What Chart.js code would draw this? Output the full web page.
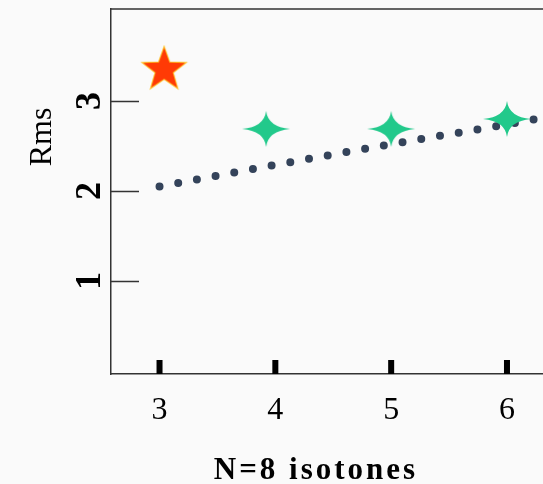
<!DOCTYPE html>
<html lang="en">
<head>
    <meta charset="UTF-8">
    <title>N=8 isotones Rms</title>
    <style>
        html, body {
            margin: 0;
            padding: 0;
            background: #fafafa;
            overflow: hidden;
        }
        #chart-container {
            width: 600px;
            height: 484px;
        }
    </style>
</head>
<body>
    <div id="chart-container">
        <canvas id="rmsChart"></canvas>
    </div>

    <script src="https://cdn.jsdelivr.net/npm/chart.js"></script>

    <script>
        // measured point (red star) and the isotone values (green stars)
        const measuredX = [3.04];
        const measuredY = [3.37];
        const isotoneX = [3.92, 5, 6];
        const isotoneY = [2.69, 2.69, 2.80];
        // dotted reference curve
        const curveX = [3, 4, 5, 6, 6.3];
        const curveY = [2.05, 2.29, 2.52, 2.74, 2.81];
        // tick labels
        const xTicks = [3, 4, 5, 6];
        const yTicks = [1, 2, 3];

        const toPoints = (xs, ys) => xs.map((x, i) => ({ x: x, y: ys[i] }));

        // red five point star
        function makeStar() {
            const c = document.createElement('canvas');
            c.width = 50; c.height = 46;
            const g = c.getContext('2d');
            g.translate(25, 25);
            g.beginPath();
            for (let i = 0; i < 10; i++) {
                const r = i % 2 === 0 ? 22 : 9;
                const a = -Math.PI / 2 + i * Math.PI / 5;
                g.lineTo(r * Math.cos(a), r * Math.sin(a));
            }
            g.closePath();
            g.fillStyle = '#ff3a05';
            g.strokeStyle = 'rgba(255, 185, 0, 0.85)';
            g.lineWidth = 2;
            g.stroke();
            g.fill();
            return c;
        }

        // green four point sparkle
        function makeSparkle() {
            const c = document.createElement('canvas');
            c.width = 50; c.height = 38;
            const g = c.getContext('2d');
            g.translate(25, 19);
            g.beginPath();
            g.moveTo(0, -18);
            g.quadraticCurveTo(2, -2, 24, 0);
            g.quadraticCurveTo(2, 2, 0, 18);
            g.quadraticCurveTo(-2, 2, -24, 0);
            g.quadraticCurveTo(-2, -2, 0, -18);
            g.closePath();
            g.fillStyle = '#22c98b';
            g.fill();
            return c;
        }

        // inner tick marks, top frame line and the axis titles
        const framePlugin = {
            id: 'frame',
            afterDraw(chart) {
                const ctx = chart.ctx;
                const area = chart.chartArea;
                const xs = chart.scales.x;
                const ys = chart.scales.y;
                ctx.save();
                ctx.strokeStyle = '#333';
                ctx.lineWidth = 1.5;
                ctx.beginPath();
                ctx.moveTo(area.left, area.top);
                ctx.lineTo(area.right, area.top);
                ys.ticks.forEach(t => {
                    const py = Math.round(ys.getPixelForValue(t.value)) + 0.5;
                    ctx.moveTo(area.left, py);
                    ctx.lineTo(area.left + 28, py);
                });
                ctx.stroke();

                ctx.strokeStyle = '#000';
                ctx.lineWidth = 6;
                ctx.beginPath();
                xs.ticks.forEach(t => {
                    const px = xs.getPixelForValue(t.value);
                    ctx.moveTo(px, area.bottom);
                    ctx.lineTo(px, area.bottom - 14);
                });
                ctx.stroke();

                ctx.fillStyle = '#000';
                ctx.textAlign = 'center';
                ctx.textBaseline = 'middle';
                ctx.font = 'bold 31px "Liberation Serif"';
                ctx.letterSpacing = '3px';
                ctx.fillText('N=8 isotones', 316, 471);
                ctx.letterSpacing = '0px';

                ctx.translate(area.left - 68, area.top + 128);
                ctx.rotate(-Math.PI / 2);
                ctx.font = '32px "Liberation Serif"';
                ctx.fillText('Rms', 0, 0);
                ctx.restore();
            }
        };

        const ctx = document.getElementById('rmsChart').getContext('2d');

        const rmsChart = new Chart(ctx, {
            type: 'scatter',
            data: {
                datasets: [{
                    label: 'curve',
                    type: 'line',
                    data: toPoints(curveX, curveY),
                    borderColor: '#34435a',
                    borderWidth: 8,
                    borderDash: [0, 19],
                    borderCapStyle: 'round',
                    cubicInterpolationMode: 'monotone',
                    pointRadius: 0,
                    fill: false,
                    order: 2
                }, {
                    label: 'isotones',
                    data: toPoints(isotoneX, isotoneY),
                    pointStyle: makeSparkle(),
                    order: 1
                }, {
                    label: 'measured',
                    data: toPoints(measuredX, measuredY),
                    pointStyle: makeStar(),
                    order: 0
                }]
            },
            options: {
                responsive: true,
                maintainAspectRatio: false,
                animation: false,
                layout: {
                    padding: { top: 9, right: 0, bottom: 0, left: 0 }
                },
                plugins: {
                    legend: { display: false },
                    tooltip: { enabled: false }
                },
                scales: {
                    x: {
                        type: 'linear',
                        min: 2.581,
                        max: 6.76,
                        afterBuildTicks: s => { s.ticks = xTicks.map(v => ({ value: v })); },
                        afterFit: s => { s.height = 110; s.paddingLeft = 0; s.paddingRight = 0; },
                        grid: { display: false },
                        border: { display: true, color: '#333', width: 1.5 },
                        ticks: {
                            color: '#000',
                            padding: 9,
                            font: { family: 'Liberation Serif', size: 32 }
                        }
                    },
                    y: {
                        type: 'linear',
                        min: -0.033,
                        max: 4.022,
                        afterBuildTicks: s => { s.ticks = yTicks.map(v => ({ value: v })); },
                        afterFit: s => { s.width = 111; s.paddingTop = 0; s.paddingBottom = 0; },
                        grid: { display: false },
                        border: { display: true, color: '#333', width: 1.5 },
                        ticks: {
                            color: '#000',
                            padding: 3,
                            minRotation: 90,
                            maxRotation: 90,
                            crossAlign: 'center',
                            font: { family: 'Liberation Serif', size: 36, weight: 'bold' }
                        }
                    }
                }
            },
            plugins: [framePlugin]
        });
    </script>
</body>
</html>
